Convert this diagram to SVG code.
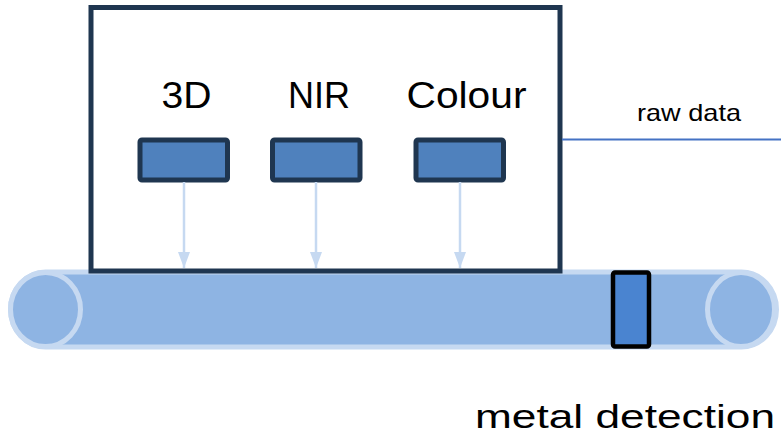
<svg xmlns="http://www.w3.org/2000/svg" width="781" height="441" viewBox="0 0 781 441">
  <style>
    .lbl { font-family: "Liberation Sans", Arial, sans-serif; fill: #000; }
    .sensor { fill: #4F81BD; stroke: #1F3650; stroke-width: 5; }
    .feed { stroke: #C6D9F1; stroke-width: 2.5; fill: none; marker-end: url(#tip); }
    .belt { fill: #8EB4E3; stroke: #C6D9F1; stroke-width: 5; }
  </style>
  <defs>
    <marker id="tip" viewBox="0 0 16 12" refX="16" refY="6" markerWidth="16" markerHeight="12" markerUnits="userSpaceOnUse" orient="auto">
      <path d="M0,0 L16,6 L0,12 Z" fill="#C6D9F1"/>
    </marker>
  </defs>
  <rect width="781" height="441" fill="#FFFFFF"/>

  <!-- conveyor belt -->
  <g id="conveyor">
    <rect class="belt" x="10.5" y="272" width="766" height="75" rx="35" ry="37.5"/>
    <ellipse class="belt" cx="45.5" cy="309.5" rx="35" ry="37"/>
    <ellipse class="belt" cx="741" cy="309.5" rx="33.5" ry="37"/>
  </g>

  <!-- metal detector on the belt -->
  <g id="metal-detector">
    <rect x="613" y="272.5" width="36" height="74" rx="2" fill="#4A84D0" stroke="#000" stroke-width="4.5"/>
    <text class="lbl" x="475" y="428" font-size="34" textLength="300" lengthAdjust="spacingAndGlyphs">metal detection</text>
  </g>

  <!-- sensor housing -->
  <g id="housing">
    <rect x="91" y="7.5" width="469" height="263.5" fill="#FFFFFF" stroke="#1F3650" stroke-width="5"/>
  </g>

  <g id="sensor-3d">
    <rect class="sensor" x="140" y="140" width="87.5" height="40" rx="2"/>
    <text class="lbl" x="161.5" y="108" font-size="37" textLength="50" lengthAdjust="spacingAndGlyphs">3D</text>
  </g>
  <g id="sensor-nir">
    <rect class="sensor" x="272.5" y="140" width="87.5" height="40" rx="2"/>
    <text class="lbl" x="288" y="108" font-size="37" textLength="62" lengthAdjust="spacingAndGlyphs">NIR</text>
  </g>
  <g id="sensor-colour">
    <rect class="sensor" x="416" y="140" width="87.5" height="40" rx="2"/>
    <text class="lbl" x="406.5" y="108" font-size="37" textLength="120" lengthAdjust="spacingAndGlyphs">Colour</text>
  </g>

  <!-- connectors -->
  <g id="connectors">
    <line class="feed" x1="184" y1="182" x2="184" y2="268"/>
    <line class="feed" x1="316" y1="182" x2="316" y2="268"/>
    <line class="feed" x1="460" y1="182" x2="460" y2="268"/>
    <line x1="562" y1="139.5" x2="781" y2="139.5" stroke="#4472C4" stroke-width="2"/>
  </g>

  <g id="raw-data-label">
    <text class="lbl" x="637" y="120.5" font-size="24" textLength="104" lengthAdjust="spacingAndGlyphs">raw data</text>
  </g>
</svg>
